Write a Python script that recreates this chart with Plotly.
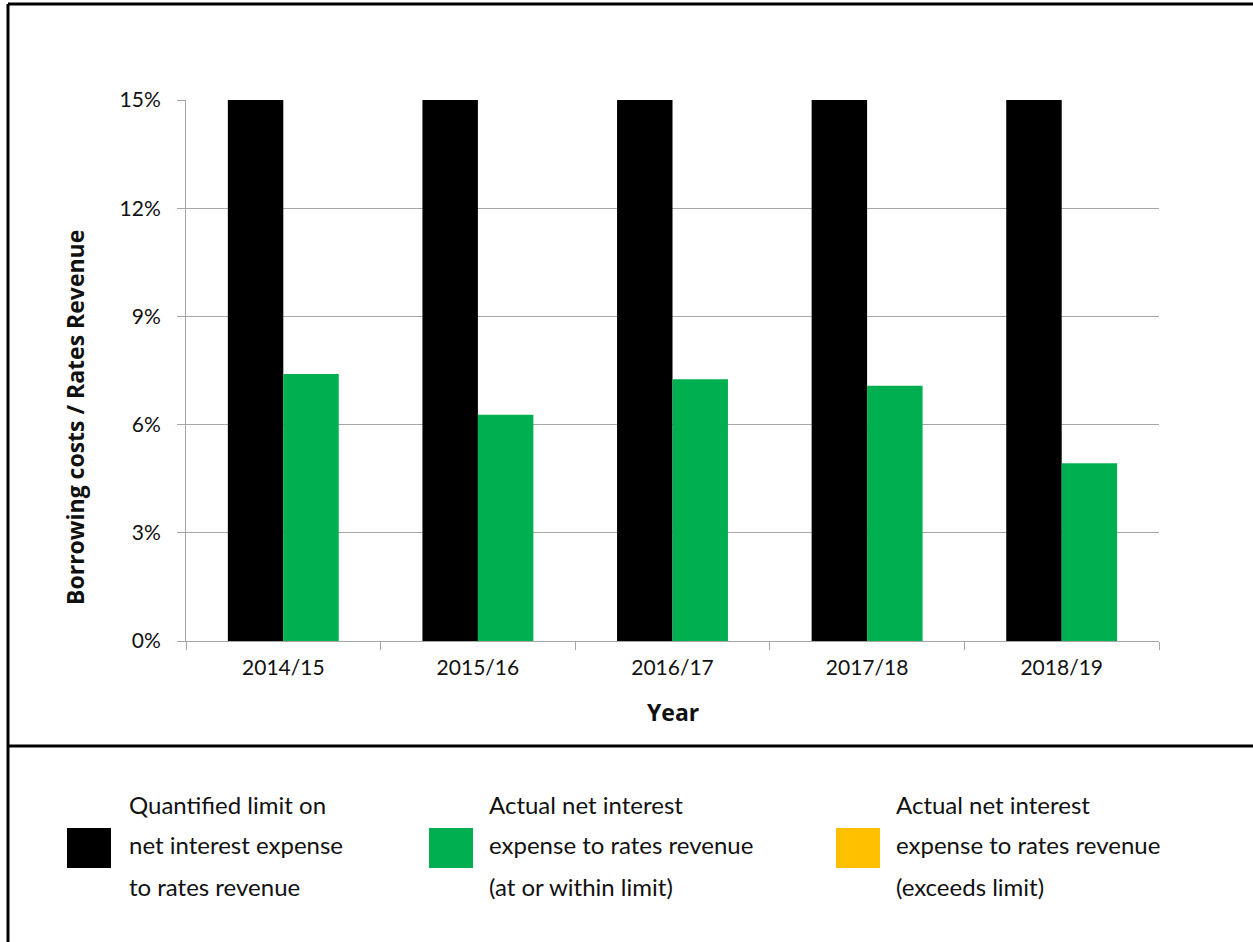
import plotly.graph_objects as go

# Data
years = ["2014/15", "2015/16", "2016/17", "2017/18", "2018/19"]
limit_pct = [15, 15, 15, 15, 15]
actual_pct = [7.40, 6.27, 7.26, 7.08, 4.93]
y_ticks = [0, 3, 6, 9, 12, 15]

legend_labels = [
    ["Quantified limit on", "net interest expense", "to rates revenue"],
    ["Actual net interest", "expense to rates revenue", "(at or within limit)"],
    ["Actual net interest", "expense to rates revenue", "(exceeds limit)"],
]

BLACK = "#000000"
GREEN = "#00B050"
AMBER = "#FFC000"
GRID = "#A6A6A6"
TEXT_FONT = "Lato"
TITLE_FONT = "Open Sans"

W, H = 1253, 942
L, R, T, B = 186, 1159, 100, 641  # plot area in pixels


def px(x):
    return (x - L) / (R - L)


def py(y):
    return (B - y) / (B - T)


actual_colors = [GREEN if a <= lim else AMBER for a, lim in zip(actual_pct, limit_pct)]

fig = go.Figure()
fig.add_trace(go.Bar(x=years, y=limit_pct, marker=dict(color=BLACK, line=dict(width=0)),
                     name="limit", showlegend=False))
fig.add_trace(go.Bar(x=years, y=actual_pct, marker=dict(color=actual_colors, line=dict(width=0)),
                     name="actual", showlegend=False))

fig.update_layout(
    width=W, height=H,
    margin=dict(l=L, r=W - R, t=T, b=H - B),
    paper_bgcolor="white", plot_bgcolor="white",
    barmode="group", bargap=0.43, bargroupgap=0,
    font=dict(family=TEXT_FONT, size=21, color="#111111"),
)

fig.update_yaxes(
    range=[0, 15], tickvals=y_ticks, ticktext=[f"{v}%" for v in y_ticks],
    showgrid=True, gridcolor=GRID, gridwidth=1,
    showline=True, linecolor=GRID, linewidth=1,
    ticks="outside", ticklen=8, tickcolor=GRID,
    ticklabelstandoff=12, zeroline=False,
    tickfont=dict(family=TEXT_FONT, size=21, color="#111111"),
)
fig.update_xaxes(
    showline=True, linecolor=GRID, linewidth=1,
    ticks="outside", ticklen=8, tickcolor=GRID, tickson="boundaries",
    ticklabelstandoff=8,
    tickfont=dict(family=TEXT_FONT, size=21, color="#111111"),
)

annotations = [
    dict(text="<b>Borrowing costs / Rates Revenue</b>", textangle=-90,
         x=px(75), y=py(418), xref="paper", yref="paper",
         xanchor="center", yanchor="middle", showarrow=False,
         font=dict(family=TITLE_FONT, size=23, color="#111111")),
    dict(text="<b>Year</b>", x=px(673), y=py(712), xref="paper", yref="paper",
         xanchor="center", yanchor="middle", showarrow=False,
         font=dict(family=TITLE_FONT, size=23, color="#111111")),
]

shapes = [
    # outer frame lines
    dict(type="line", xref="paper", yref="paper", x0=px(8), x1=px(W + 5), y0=py(4), y1=py(4),
         line=dict(color="black", width=3)),
    dict(type="line", xref="paper", yref="paper", x0=px(8), x1=px(8), y0=py(4), y1=py(H + 5),
         line=dict(color="black", width=3)),
    dict(type="line", xref="paper", yref="paper", x0=px(8), x1=px(W + 5), y0=py(746), y1=py(746),
         line=dict(color="black", width=3)),
]

# Legend swatches and labels
swatch_x = [67, 429, 836]
text_x = [127, 487, 894]
line_y = [804, 845, 886]
for color, sx, tx, lines in zip([BLACK, GREEN, AMBER], swatch_x, text_x, legend_labels):
    shapes.append(dict(type="rect", xref="paper", yref="paper",
                       x0=px(sx), x1=px(sx + 44), y0=py(828), y1=py(868),
                       fillcolor=color, line=dict(width=0)))
    for ly, txt in zip(line_y, lines):
        annotations.append(dict(text=txt, x=px(tx), y=py(ly), xref="paper", yref="paper",
                                xanchor="left", yanchor="middle", showarrow=False,
                                font=dict(family=TEXT_FONT, size=24, color="#111111")))

fig.update_layout(annotations=annotations, shapes=shapes)

fig.write_html("out.html")
